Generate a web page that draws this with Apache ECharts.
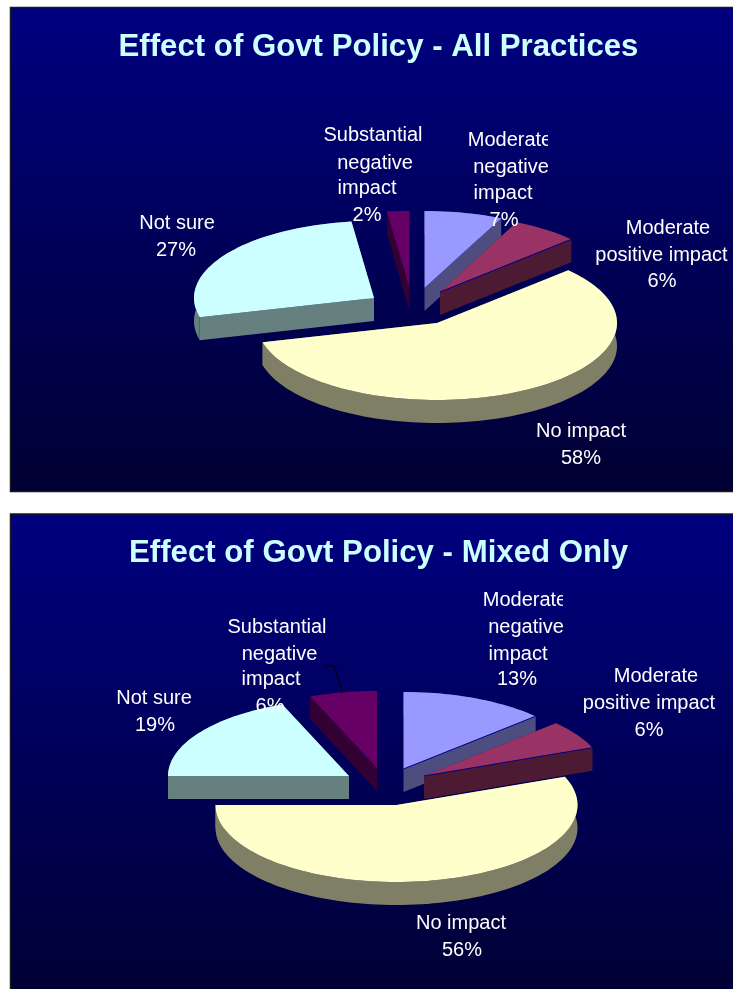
<!DOCTYPE html>
<html>
<head>
<meta charset="utf-8">
<title>Effect of Govt Policy</title>
<script src="https://cdn.jsdelivr.net/npm/echarts@6/dist/echarts.min.js"></script>
<style>
  html, body { margin: 0; padding: 0; background: #ffffff; }
  #chart { width: 733px; height: 989px; }
</style>
</head>
<body>
<div id="chart"></div>
<script>
// Survey answers, in clockwise order from twelve o'clock
const categories = [
  'Moderate negative impact',
  'Moderate positive impact',
  'No impact',
  'Not sure',
  'Substantial negative impact'
];
const allPracticesValues = [7, 6, 58, 27, 2];
const mixedOnlyValues = [13, 6, 56, 19, 6];
const titles = ['Effect of Govt Policy - All Practices', 'Effect of Govt Policy - Mixed Only'];

// How each category name wraps when it is used as a label
const labelBreaks = [
  ['Moderate', 'negative', 'impact'],
  ['Moderate', 'positive impact'],
  ['No impact'],
  ['Not sure'],
  ['Substantial', 'negative', 'impact']
];

const sliceColors = ['#9999FF', '#993366', '#FFFFCC', '#CCFFFF', '#660066'];
const wallColors  = ['#4D4D7F', '#4D1A33', '#7F7F66', '#667F7F', '#330033'];

// Placement of the two exploded pies: tilt ellipse, wall height, per-slice pull-out,
// and per-line label anchors [x, y], with an optional right-hand cut for clipped lines.
const layouts = [
  {
    centre: [413, 310], rx: 180, ry: 77, depth: 23,
    pull: [[11.5, -22], [27, -18], [24, 13], [-39, -12], [-3.5, -22]],
    edgeLines: [1],
    labels: [
      { lines: [[510, 140, 548], [511, 167], [503, 193], [504, 220]] },
      { lines: [[668, 228], [661.5, 255], [662, 281]] },
      { lines: [[581, 431], [581, 458]] },
      { lines: [[177, 223], [176, 250]] },
      { lines: [[373, 135, 422], [375, 163], [367, 188], [367, 215]] }
    ]
  },
  {
    centre: [390, 785], rx: 181, ry: 77, depth: 23,
    pull: [[13.5, -16], [34, -9], [6.5, 20], [-41, -9], [-13, -17]],
    edgeLines: [0, 1],
    leader: [[324, 666], [334.5, 666], [342.5, 693]],
    labels: [
      { lines: [[525, 600, 563], [526, 627], [518, 654], [517, 679]] },
      { lines: [[656, 676], [649, 703], [649, 730]] },
      { lines: [[461, 923], [462, 950]] },
      { lines: [[154, 698], [155, 725]] },
      { lines: [[277, 627, 326], [279.5, 654], [271, 679], [270, 706]] }
    ]
  }
];

const LABEL_FONT = '20px "Liberation Sans", Arial, sans-serif';
const TITLE_STYLE = {
  color: '#CCFFFF',
  fontFamily: '"Liberation Sans", Arial, sans-serif',
  fontWeight: 'bold',
  fontSize: 31.2
};
const ARC_STEP = Math.PI / 90;

// Point on the tilted rim for a clockwise angle measured from twelve o'clock
function rimPoint(cx, cy, rx, ry, a) {
  return [cx + rx * Math.sin(a), cy - ry * Math.cos(a)];
}

function slicePoints(cx, cy, rx, ry, a0, a1) {
  const pts = [];
  const n = Math.max(2, Math.ceil((a1 - a0) / ARC_STEP));
  for (let i = 0; i <= n; i++) pts.push(rimPoint(cx, cy, rx, ry, a0 + (a1 - a0) * i / n));
  return pts;
}

function pieSeries(values, layout) {
  const total = values.reduce((s, v) => s + v, 0);
  const starts = [];
  values.reduce((s, v, i) => { starts[i] = s; return s + v; }, 0);

  return {
    type: 'custom',
    coordinateSystem: 'none',
    silent: true,
    animation: false,
    data: values.map(v => [v]),
    renderItem(params, api) {
      const i = params.dataIndex;
      const value = api.value(0);
      const a0 = starts[i] / total * Math.PI * 2;
      const a1 = (starts[i] + value) / total * Math.PI * 2;
      const cx = layout.centre[0] + layout.pull[i][0];
      const cy = layout.centre[1] + layout.pull[i][1];
      const d = layout.depth;
      const rim = slicePoints(cx, cy, layout.rx, layout.ry, a0, a1);
      const apex = [cx, cy];
      const children = [];
      const dropped = p => [p[0], p[1] + d];

      // Walls: the slice outline swept down by the depth; the top face hides the far ones
      const wall = points => ({
        type: 'polygon',
        z2: i * 10 + 1,
        shape: { points },
        style: { fill: wallColors[i] }
      });
      const first = rim[0];
      const last = rim[rim.length - 1];
      children.push(wall([apex, first, dropped(first), dropped(apex)]));
      children.push(wall([apex, last, dropped(last), dropped(apex)]));
      children.push(wall(rim.concat(rim.slice().reverse().map(dropped))));

      // Top face
      children.push({
        type: 'polygon',
        z2: i * 10 + 2,
        shape: { points: [apex].concat(rim) },
        style: { fill: sliceColors[i] }
      });

      // Thin seam where a top face meets its front wall
      if (layout.edgeLines.includes(i)) {
        children.push({
          type: 'line',
          z2: i * 10 + 3,
          shape: { x1: apex[0], y1: apex[1], x2: last[0], y2: last[1] },
          style: { stroke: '#000080', lineWidth: 1 }
        });
      }

      // Label: wrapped category name, then the share
      const lines = labelBreaks[i].concat([value + '%']);
      lines.forEach((line, k) => {
        const anchor = layout.labels[i].lines[k];
        const el = {
          type: 'text',
          z2: 200,
          style: {
            x: anchor[0], y: anchor[1], text: line,
            fill: '#FFFFFF', font: LABEL_FONT,
            align: 'center', verticalAlign: 'middle'
          }
        };
        if (anchor[2]) {
          el.clipPath = { type: 'rect', shape: { x: anchor[0] - 70, y: anchor[1] - 16, width: anchor[2] - anchor[0] + 70, height: 32 } };
        }
        children.push(el);
      });

      // Leader line for the last slice, when its label sits away from it
      if (layout.leader && i === values.length - 1) {
        children.push({
          type: 'polyline',
          z2: 190,
          shape: { points: layout.leader },
          style: { stroke: '#000000', fill: null, lineWidth: 1 }
        });
      }

      return { type: 'group', children };
    }
  };
}

function panelRect(top, height) {
  return {
    type: 'rect',
    silent: true,
    z: -1,
    shape: { x: 10.5, y: top + 0.5, width: 730, height },
    style: {
      stroke: '#1a1a1a',
      lineWidth: 1.5,
      fill: new echarts.graphic.LinearGradient(0, 0, 0, 1, [
        { offset: 0, color: '#000080' },
        { offset: 1, color: '#000033' }
      ])
    }
  };
}

const chart = echarts.init(document.getElementById('chart'), null, { renderer: 'canvas' });
chart.setOption({
  animation: false,
  backgroundColor: '#ffffff',
  graphic: [panelRect(7, 484), panelRect(513.5, 490)],
  title: [
    { text: titles[0], left: 373.5, top: 27, textAlign: 'center', textStyle: TITLE_STYLE },
    { text: titles[1], left: 373.5, top: 533, textAlign: 'center', textStyle: TITLE_STYLE }
  ],
  series: [
    pieSeries(allPracticesValues, layouts[0]),
    pieSeries(mixedOnlyValues, layouts[1])
  ]
});
</script>
</body>
</html>
